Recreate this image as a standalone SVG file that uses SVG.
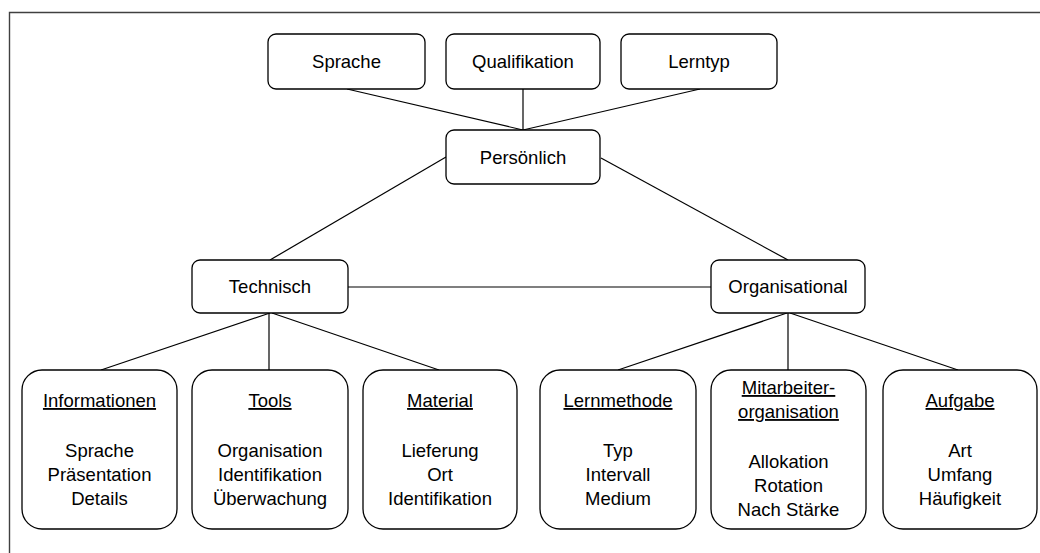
<svg xmlns="http://www.w3.org/2000/svg" width="1040" height="553" viewBox="0 0 1040 553">
<style>
.bx{fill:#fff;stroke:#000;stroke-width:1.3}
.ln{stroke:#000;stroke-width:1.2;fill:none}
text{font-family:"Liberation Sans",Arial,sans-serif;font-size:18.5px;fill:#000;text-anchor:middle}
.u{text-decoration:underline}
</style>
<rect width="1040" height="553" fill="#fff"/>
<path d="M9.5,553 V12.5 H1040" fill="none" stroke="#404040" stroke-width="1.4"/>
<g id="connectors">
<line class="ln" x1="347" y1="89" x2="523" y2="130"/>
<line class="ln" x1="523" y1="89" x2="523" y2="130"/>
<line class="ln" x1="700" y1="89" x2="523" y2="130"/>
<line class="ln" x1="446" y1="157" x2="270" y2="260"/>
<line class="ln" x1="601" y1="158" x2="788" y2="260"/>
<line class="ln" x1="348" y1="287" x2="711" y2="287"/>
<line class="ln" x1="270" y1="313" x2="101" y2="370"/>
<line class="ln" x1="269" y1="313" x2="269" y2="370"/>
<line class="ln" x1="272" y1="313" x2="439" y2="370"/>
<line class="ln" x1="787" y1="313" x2="618" y2="370"/>
<line class="ln" x1="788" y1="313" x2="788" y2="370"/>
<line class="ln" x1="790" y1="313" x2="958" y2="370"/>
</g>
<g id="sprache"><rect class="bx" x="268" y="34" width="157" height="55" rx="8"/><text x="346.5" y="68">Sprache</text></g>
<g id="qualifikation"><rect class="bx" x="446" y="34" width="154" height="55" rx="8"/><text x="523" y="68">Qualifikation</text></g>
<g id="lerntyp"><rect class="bx" x="621" y="34" width="156" height="55" rx="8"/><text x="699" y="68">Lerntyp</text></g>
<g id="persoenlich"><rect class="bx" x="446" y="130" width="154" height="54" rx="8"/><text x="523" y="164">Persönlich</text></g>
<g id="technisch"><rect class="bx" x="192" y="260" width="156" height="53" rx="8"/><text x="270" y="293">Technisch</text></g>
<g id="organisational"><rect class="bx" x="711" y="260" width="154" height="53" rx="8"/><text x="788" y="293">Organisational</text></g>
<g id="informationen"><rect class="bx" x="22" y="370" width="155" height="159" rx="20"/>
<text x="99.5" y="407" class="u">Informationen</text>
<text x="99.5" y="457">Sprache</text><text x="99.5" y="481">Präsentation</text><text x="99.5" y="505">Details</text></g>
<g id="tools"><rect class="bx" x="192" y="370" width="156" height="159" rx="20"/>
<text x="270" y="407" class="u">Tools</text>
<text x="270" y="457">Organisation</text><text x="270" y="481">Identifikation</text><text x="270" y="505">Überwachung</text></g>
<g id="material"><rect class="bx" x="363" y="370" width="154" height="159" rx="20"/>
<text x="440" y="407" class="u">Material</text>
<text x="440" y="457">Lieferung</text><text x="440" y="481">Ort</text><text x="440" y="505">Identifikation</text></g>
<g id="lernmethode"><rect class="bx" x="540" y="370" width="156" height="159" rx="20"/>
<text x="618" y="407" class="u">Lernmethode</text>
<text x="618" y="457">Typ</text><text x="618" y="481">Intervall</text><text x="618" y="505">Medium</text></g>
<g id="mitarbeiterorganisation"><rect class="bx" x="711" y="370" width="155" height="159" rx="20"/>
<text x="788.5" y="394" class="u">Mitarbeiter-</text><text x="788.5" y="418" class="u">organisation</text>
<text x="788.5" y="468">Allokation</text><text x="788.5" y="492">Rotation</text><text x="788.5" y="516">Nach Stärke</text></g>
<g id="aufgabe"><rect class="bx" x="883" y="370" width="154" height="159" rx="20"/>
<text x="960" y="407" class="u">Aufgabe</text>
<text x="960" y="457">Art</text><text x="960" y="481">Umfang</text><text x="960" y="505">Häufigkeit</text></g>
</svg>
